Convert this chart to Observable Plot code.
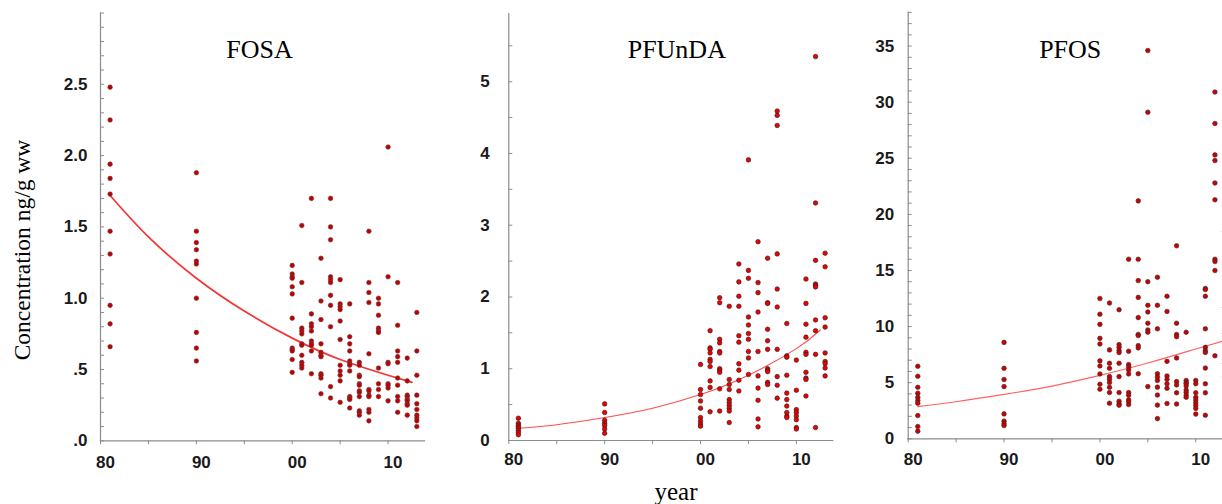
<!DOCTYPE html>
<html>
<head>
<meta charset="utf-8">
<script src="https://cdn.jsdelivr.net/npm/d3@7"></script>
<script src="https://cdn.jsdelivr.net/npm/@observablehq/plot@0.6"></script>
<style>
  html, body { margin: 0; padding: 0; background: #fff; overflow: hidden; }
  #wrap { position: relative; width: 1222px; height: 504px; overflow: hidden; background: #fff; }
  .panel { position: absolute; top: 0; }
  .ylab { position: absolute; left: 22px; top: 250px; transform: translate(-50%, -50%) rotate(-90deg);
          font-family: "Liberation Serif", "Times New Roman", serif; font-size: 23.5px; white-space: nowrap; color: #000; }
  .xlab { position: absolute; left: 676px; top: 479px; transform: translateX(-50%);
          font-family: "Liberation Serif", "Times New Roman", serif; font-size: 25px; color: #000; line-height: 1; }
</style>
</head>
<body>
<div id="wrap"></div>
<script>
// ---------- data ----------
const yAxisTitle = "Concentration ng/g ww";
const xAxisTitle = "year";
const panelTitles = ["FOSA", "PFUnDA", "PFOS"];

const xLabelYears = [1980, 1990, 2000, 2010];
const xLabels = ["80", "90", "00", "10"];
const xTickYears = [1980, 1985, 1990, 1995, 2000, 2005, 2010];

// FOSA
const fosaTicks = [0, 0.5, 1, 1.5, 2, 2.5];
const fosaTickLabels = [".0", ".5", "1.0", "1.5", "2.0", "2.5"];
const fosaPoints = [
  [1981, [2.48, 2.25, 1.94, 1.84, 1.73, 1.47, 1.31, 0.95, 0.82, 0.66]],
  [1990, [1.88, 1.47, 1.39, 1.34, 1.26, 1.24, 1.00, 0.76, 0.65, 0.56]],
  [2000, [1.23, 1.17, 1.15, 1.14, 1.08, 1.03, 0.86, 0.65, 0.64, 0.63, 0.57, 0.48]],
  [2001, [1.51, 1.11, 0.79, 0.77, 0.75, 0.68, 0.67, 0.60, 0.55, 0.53, 0.51]],
  [2002, [1.70, 0.89, 0.82, 0.80, 0.77, 0.70, 0.68, 0.67, 0.63, 0.47]],
  [2003, [1.28, 0.98, 0.85, 0.68, 0.62, 0.60, 0.59, 0.47, 0.46, 0.44, 0.33]],
  [2004, [1.70, 1.50, 1.41, 1.15, 1.13, 1.11, 1.02, 0.95, 0.80, 0.38, 0.30]],
  [2005, [1.13, 0.96, 0.94, 0.92, 0.84, 0.71, 0.53, 0.49, 0.46, 0.42, 0.27]],
  [2006, [0.96, 0.73, 0.68, 0.63, 0.56, 0.54, 0.53, 0.49, 0.31, 0.30, 0.29, 0.23]],
  [2007, [0.55, 0.53, 0.46, 0.45, 0.40, 0.39, 0.35, 0.34, 0.31, 0.21, 0.20, 0.18]],
  [2008, [1.47, 1.11, 1.04, 0.97, 0.61, 0.36, 0.35, 0.32, 0.31, 0.22, 0.20, 0.14]],
  [2009, [1.00, 0.96, 0.88, 0.79, 0.77, 0.76, 0.51, 0.40, 0.36, 0.31]],
  [2010, [2.06, 1.15, 0.55, 0.54, 0.40, 0.39, 0.37, 0.28]],
  [2011, [1.11, 0.81, 0.63, 0.59, 0.55, 0.44, 0.39, 0.31, 0.28, 0.20]],
  [2012, [0.58, 0.42, 0.32, 0.31, 0.29, 0.28, 0.26, 0.25, 0.18]],
  [2013, [0.90, 0.63, 0.46, 0.32, 0.26, 0.22, 0.18, 0.16, 0.14, 0.10]]
];
const fosaTrendYears = [1981, 1985, 1990, 1995, 2000, 2005, 2010, 2012.5];
const fosaTrendValues = [1.72, 1.43, 1.14, 0.91, 0.72, 0.57, 0.46, 0.41];

// PFUnDA
const pfundaTicks = [0, 1, 2, 3, 4, 5];
const pfundaTickLabels = ["0", "1", "2", "3", "4", "5"];
const pfundaPoints = [
  [1981, [0.31, 0.24, 0.21, 0.19, 0.17, 0.14, 0.11, 0.08]],
  [1990, [0.51, 0.39, 0.28, 0.24, 0.21, 0.16, 0.10]],
  [2000, [1.06, 0.71, 0.64, 0.55, 0.45, 0.32, 0.27, 0.23, 0.20]],
  [2001, [1.53, 1.29, 1.27, 1.22, 1.13, 1.10, 1.03, 0.83, 0.74, 0.40]],
  [2002, [1.99, 1.92, 1.41, 1.36, 1.24, 1.22, 1.00, 0.98, 0.95, 0.72, 0.41]],
  [2003, [1.87, 0.85, 0.78, 0.71, 0.57, 0.53, 0.49, 0.45, 0.41, 0.25]],
  [2004, [2.46, 2.21, 2.01, 1.87, 1.46, 1.37, 1.07, 0.98, 0.84, 0.69]],
  [2005, [3.91, 2.37, 2.26, 1.72, 1.61, 1.49, 1.41, 1.24, 1.15, 0.92]],
  [2006, [2.77, 2.20, 2.06, 1.79, 1.24, 0.90, 0.73, 0.56, 0.30, 0.19]],
  [2007, [2.54, 1.92, 1.91, 1.55, 1.39, 1.27, 1.00, 0.98, 0.96, 0.81, 0.78]],
  [2008, [4.59, 4.53, 4.39, 2.60, 2.11, 1.86, 1.27, 0.89, 0.77, 0.59]],
  [2009, [1.63, 1.18, 1.16, 0.91, 0.66, 0.57, 0.48, 0.39, 0.34, 0.32]],
  [2010, [1.12, 0.70, 0.43, 0.39, 0.34, 0.29, 0.18, 0.16]],
  [2011, [2.25, 1.91, 1.62, 1.44, 1.23, 1.20, 0.95, 0.87, 0.85, 0.62]],
  [2012, [5.35, 3.31, 2.51, 2.18, 2.16, 2.14, 1.68, 1.53, 1.20, 0.18]],
  [2013, [2.61, 2.42, 1.71, 1.58, 1.22, 1.10, 1.07, 1.01, 0.90]]
];
const pfundaTrendYears = [1981, 1985, 1990, 1995, 2000, 2005, 2010, 2012.5];
const pfundaTrendValues = [0.17, 0.22, 0.32, 0.45, 0.64, 0.91, 1.28, 1.54];

// PFOS
const pfosTicks = [0, 5, 10, 15, 20, 25, 30, 35];
const pfosTickLabels = ["0", "5", "10", "15", "20", "25", "30", "35"];
const pfosPoints = [
  [1981, [6.46, 5.57, 4.59, 4.06, 3.70, 3.41, 3.17, 2.07, 1.09, 0.68]],
  [1990, [8.59, 6.28, 5.28, 4.65, 2.22, 1.57, 1.33, 1.18]],
  [2000, [12.5, 11.1, 10.2, 8.95, 8.45, 6.94, 6.49, 5.78, 4.86, 4.42]],
  [2001, [12.1, 7.92, 6.73, 6.28, 5.54, 5.31, 5.01, 4.59, 4.12, 3.17]],
  [2002, [11.5, 8.39, 8.15, 7.86, 7.68, 6.73, 5.54, 4.12, 3.35, 3.11, 2.99]],
  [2003, [16.0, 7.80, 6.61, 6.43, 6.14, 5.78, 4.12, 3.88, 3.47, 3.29, 3.05]],
  [2004, [21.2, 16.0, 14.1, 12.6, 10.8, 9.3, 9.2, 8.3, 8.1, 5.8]],
  [2005, [34.6, 29.1, 14.0, 11.9, 11.3, 10.3, 9.7, 9.5, 4.65]],
  [2006, [14.4, 11.9, 9.8, 5.8, 5.5, 5.2, 4.6, 3.9, 3.0, 1.8]],
  [2007, [12.7, 11.35, 6.9, 5.6, 5.3, 4.9, 4.5, 3.15]],
  [2008, [17.2, 10.3, 9.3, 9.1, 7.2, 5.1, 4.8, 4.1, 3.1]],
  [2009, [9.5, 5.2, 5.0, 4.9, 4.7, 4.35, 4.15, 3.9, 3.7]],
  [2010, [5.2, 4.9, 4.1, 3.7, 3.45, 3.2, 2.95, 2.7, 2.2]],
  [2011, [13.4, 13.3, 12.7, 9.8, 8.15, 7.85, 7.7, 6.3, 4.9, 4.1, 2.1]],
  [2012, [30.9, 28.1, 25.3, 24.8, 22.8, 21.3, 16.0, 15.8, 15.0, 7.4]],
  [2013, [18.5, 11.7, 9.4, 6.7, 5.5]]
];
const pfosTrendYears = [1981, 1985, 1990, 1995, 2000, 2005, 2010, 2013];
const pfosTrendValues = [2.87, 3.30, 3.95, 4.70, 5.65, 6.75, 8.00, 8.75];

// ---------- drawing ----------
const wrap = document.getElementById("wrap");
const PLOT_W = 324;
const X_DOMAIN = [1980, 2013.8];

function flatten(points) {
  const out = [];
  for (const [year, vals] of points) for (const v of vals) out.push({year, value: v});
  return out;
}

function panel(o) {
  const dots = flatten(o.points);
  const trend = o.trendYears.map((y, i) => ({year: y, value: o.trendValues[i]}));
  const plotH = o.bottom - o.top;
  const minor = d3.range(o.yDomain[0], o.yDomain[1] + 1e-9, o.minorStep).map(v => +v.toFixed(4));
  const svg = Plot.plot({
    width: o.marginLeft + PLOT_W + 20,
    height: 504,
    marginLeft: o.marginLeft,
    marginRight: 20,
    marginTop: o.top,
    marginBottom: 504 - o.bottom,
    x: {domain: X_DOMAIN, axis: null},
    y: {domain: o.yDomain, axis: null},
    style: {fontFamily: "'Liberation Sans', Arial, Helvetica, sans-serif", background: "transparent", overflow: "visible", color: "#1a1a1a"},
    marks: [
      Plot.frame({anchor: "left", stroke: "#8c8c8c", strokeWidth: 1.2}),
      Plot.frame({anchor: "bottom", stroke: "#8c8c8c", strokeWidth: 1.2}),
      Plot.tickY(minor, {y: d => d, insetRight: PLOT_W - 4, stroke: "#8c8c8c", strokeWidth: 1}),
      Plot.tickX(xTickYears, {x: d => d, insetTop: plotH, insetBottom: -4, stroke: "#8c8c8c", strokeWidth: 1}),
      Plot.axisY(o.ticks, {label: null, tickSize: 0, tickPadding: o.yPad, tickFormat: d => o.tickLabels[o.ticks.indexOf(d)],
        fontSize: 17, fontWeight: "bold", fill: "#1a1a1a"}),
      Plot.axisX(xLabelYears, {label: null, tickSize: 0, tickPadding: o.xPad, dx: 5, tickFormat: d => xLabels[xLabelYears.indexOf(d)],
        fontSize: 17, fontWeight: "bold", fill: "#1a1a1a"}),
      Plot.text([o.title], {frameAnchor: "top", dy: 27 - (o.top - 12.5), dx: o.titleDx, text: d => d,
        fontFamily: "'Liberation Serif', 'Times New Roman', serif", fontSize: 26, fill: "#000"}),
      Plot.line(trend, {x: "year", y: "value", curve: "natural", stroke: o.lineColor, strokeWidth: o.lineWidth}),
      Plot.dot(dots, {x: "year", y: "value", r: 2.3, fill: o.dotFill, stroke: o.dotStroke, strokeWidth: o.dotStrokeWidth})
    ]
  });
  svg.classList.add("panel");
  svg.style.left = o.left + "px";
  wrap.appendChild(svg);
}

panel({left: 0, marginLeft: 100, top: 12.5, bottom: 440.3, yDomain: [0, 3], minorStep: 0.1,
  ticks: fosaTicks, tickLabels: fosaTickLabels, yPad: 13, xPad: 15, title: panelTitles[0], titleDx: -3,
  points: fosaPoints, trendYears: fosaTrendYears, trendValues: fosaTrendValues,
  lineColor: "#f53535", lineWidth: 1.7, dotFill: "#c00000", dotStroke: "#6a4040", dotStrokeWidth: 0.6});

panel({left: 420, marginLeft: 88.3, top: 13, bottom: 440, yDomain: [0, 5.95], minorStep: 0.5,
  ticks: pfundaTicks, tickLabels: pfundaTickLabels, yPad: 19, xPad: 12, title: panelTitles[1], titleDx: 6,
  points: pfundaPoints, trendYears: pfundaTrendYears, trendValues: pfundaTrendValues,
  lineColor: "#ff4d4d", lineWidth: 1.1, dotFill: "#ee0000", dotStroke: "#222", dotStrokeWidth: 0.6});

panel({left: 840, marginLeft: 67.7, top: 11.9, bottom: 438.3, yDomain: [0, 38], minorStep: 1,
  ticks: pfosTicks, tickLabels: pfosTickLabels, yPad: 14, xPad: 14, title: panelTitles[2], titleDx: 0,
  points: pfosPoints, trendYears: pfosTrendYears, trendValues: pfosTrendValues,
  lineColor: "#ff6262", lineWidth: 1.2, dotFill: "#cc0000", dotStroke: "#3a2a2a", dotStrokeWidth: 0.6});

const yl = document.createElement("div");
yl.className = "ylab";
yl.textContent = yAxisTitle;
wrap.appendChild(yl);

const xl = document.createElement("div");
xl.className = "xlab";
xl.textContent = xAxisTitle;
wrap.appendChild(xl);
</script>
</body>
</html>
